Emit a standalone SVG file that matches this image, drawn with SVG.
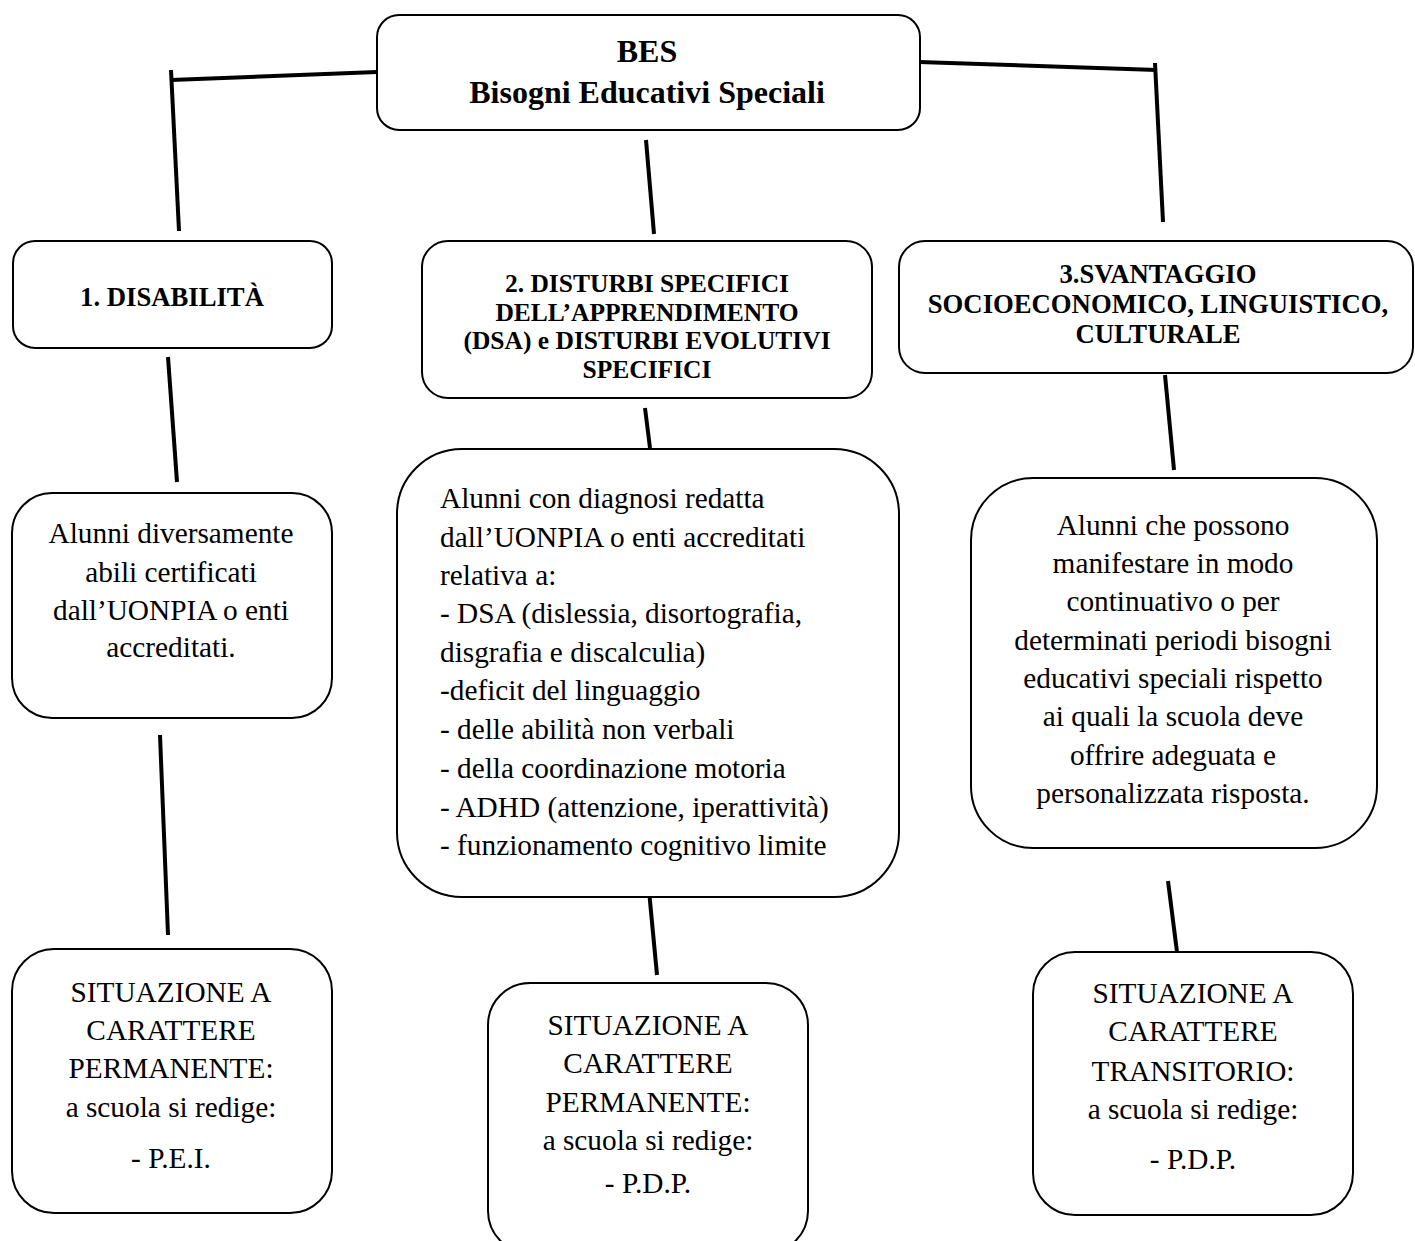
<svg xmlns="http://www.w3.org/2000/svg" width="1415" height="1241" viewBox="0 0 1415 1241">
<style>
.box{fill:#fff;stroke:#000;stroke-width:2}
.conn{stroke:#000;stroke-width:4;fill:none;stroke-linecap:butt}
.h{font-family:"Liberation Serif","Times New Roman",serif;font-weight:bold;font-size:26.7px;text-anchor:middle;fill:#000}
.h2{font-size:25.5px}
.t{font-family:"Liberation Serif","Times New Roman",serif;font-size:29.3px;fill:#000}
.c{text-anchor:middle}
.title{font-family:"Liberation Serif","Times New Roman",serif;font-weight:bold;font-size:32px;text-anchor:middle;fill:#000}
</style>
<rect width="1415" height="1241" fill="#fff"/>
<g id="connectors">
<line class="conn" x1="171" y1="80" x2="377" y2="72"/>
<line class="conn" x1="171" y1="70" x2="179" y2="231"/>
<line class="conn" x1="919" y1="62" x2="1157" y2="70"/>
<line class="conn" x1="1155" y1="63" x2="1163" y2="222"/>
<line class="conn" x1="646" y1="140" x2="654" y2="234"/>
<line class="conn" x1="168" y1="357" x2="177" y2="482"/>
<line class="conn" x1="645" y1="408" x2="650" y2="448"/>
<line class="conn" x1="1165" y1="375" x2="1174" y2="470"/>
<line class="conn" x1="160" y1="735" x2="168" y2="935"/>
<line class="conn" x1="648" y1="880" x2="657" y2="975"/>
<line class="conn" x1="1168" y1="881" x2="1177" y2="952"/>
</g>
<g id="bes">
<rect class="box" x="377" y="15" width="543" height="115" rx="22"/>
<text class="title" x="647" y="62">BES</text>
<text class="title" x="647" y="103">Bisogni Educativi Speciali</text>
</g>
<g id="disabilita">
<rect class="box" x="13" y="241" width="319" height="107" rx="22"/>
<text class="h" x="172" y="306">1. DISABILITÀ</text>
</g>
<g id="dsa">
<rect class="box" x="422" y="241" width="450" height="157" rx="26"/>
<text class="h h2" x="647" y="292">2. DISTURBI SPECIFICI</text>
<text class="h h2" x="647" y="320.5">DELL’APPRENDIMENTO</text>
<text class="h h2" x="647" y="349">(DSA) e DISTURBI EVOLUTIVI</text>
<text class="h h2" x="647" y="377.5">SPECIFICI</text>
</g>
<g id="svantaggio">
<rect class="box" x="899" y="241" width="514" height="132" rx="26"/>
<text class="h" x="1158" y="283">3.SVANTAGGIO</text>
<text class="h" x="1158" y="313">SOCIOECONOMICO, LINGUISTICO,</text>
<text class="h" x="1158" y="343">CULTURALE</text>
</g>
<g id="alunni1">
<rect class="box" x="12" y="493" width="320" height="225" rx="40"/>
<text class="t c" x="171" y="543">Alunni diversamente</text>
<text class="t c" x="171" y="582">abili certificati</text>
<text class="t c" x="171" y="620">dall’UONPIA o enti</text>
<text class="t c" x="171" y="657">accreditati.</text>
</g>
<g id="alunni2">
<rect class="box" x="397" y="449" width="502" height="448" rx="65"/>
<text class="t" x="440" y="508">Alunni con diagnosi redatta</text>
<text class="t" x="440" y="547">dall’UONPIA o enti accreditati</text>
<text class="t" x="440" y="585">relativa a:</text>
<text class="t" x="440" y="623">- DSA (dislessia, disortografia,</text>
<text class="t" x="440" y="662">disgrafia e discalculia)</text>
<text class="t" x="440" y="700">-deficit del linguaggio</text>
<text class="t" x="440" y="739">- delle abilità non verbali</text>
<text class="t" x="440" y="778">- della coordinazione motoria</text>
<text class="t" x="440" y="817">- ADHD (attenzione, iperattività)</text>
<text class="t" x="440" y="855">- funzionamento cognitivo limite</text>
</g>
<g id="alunni3">
<rect class="box" x="971" y="478" width="406" height="370" rx="62"/>
<text class="t c" x="1173" y="535">Alunni che possono</text>
<text class="t c" x="1173" y="573">manifestare in modo</text>
<text class="t c" x="1173" y="611">continuativo o per</text>
<text class="t c" x="1173" y="650">determinati periodi bisogni</text>
<text class="t c" x="1173" y="688">educativi speciali rispetto</text>
<text class="t c" x="1173" y="726">ai quali la scuola deve</text>
<text class="t c" x="1173" y="765">offrire adeguata e</text>
<text class="t c" x="1173" y="803">personalizzata risposta.</text>
</g>
<g id="situazione1">
<rect class="box" x="12" y="949" width="320" height="264" rx="42"/>
<text class="t c" x="171" y="1002">SITUAZIONE A</text>
<text class="t c" x="171" y="1040">CARATTERE</text>
<text class="t c" x="171" y="1078">PERMANENTE:</text>
<text class="t c" x="171" y="1117">a scuola si redige:</text>
<text class="t c" x="171" y="1168">- P.E.I.</text>
</g>
<g id="situazione2">
<rect class="box" x="488" y="983" width="320" height="270" rx="42"/>
<text class="t c" x="648" y="1035">SITUAZIONE A</text>
<text class="t c" x="648" y="1073">CARATTERE</text>
<text class="t c" x="648" y="1112">PERMANENTE:</text>
<text class="t c" x="648" y="1150">a scuola si redige:</text>
<text class="t c" x="648" y="1193">- P.D.P.</text>
</g>
<g id="situazione3">
<rect class="box" x="1033" y="952" width="320" height="263" rx="42"/>
<text class="t c" x="1193" y="1003">SITUAZIONE A</text>
<text class="t c" x="1193" y="1041">CARATTERE</text>
<text class="t c" x="1193" y="1081">TRANSITORIO:</text>
<text class="t c" x="1193" y="1119">a scuola si redige:</text>
<text class="t c" x="1193" y="1169">- P.D.P.</text>
</g>
</svg>
